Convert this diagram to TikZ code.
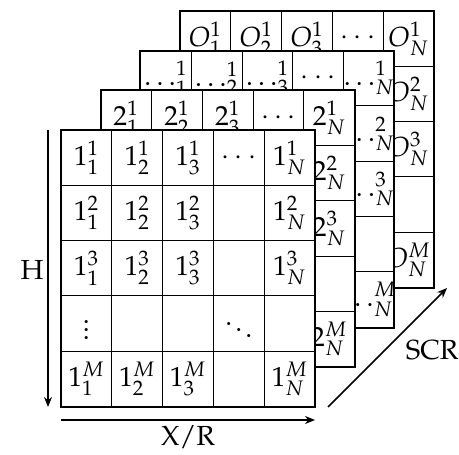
\documentclass[tikz,border=0pt]{standalone}
\usepackage[T1]{fontenc}
\usepackage{mathpazo}
\usetikzlibrary{arrows.meta}
\begin{document}
\begin{tikzpicture}[x=0.5pt,y=-0.5pt,
  inner/.style={line width=0.5pt},
  outer/.style={line width=1pt},
  lbl/.style={inner sep=0pt,font=\fontsize{13.8}{16}\selectfont},
  axis/.style={line width=0.8pt,-{Stealth[length=5pt,width=4pt]}},
  axlbl/.style={inner sep=0pt,font=\fontsize{13.8}{16}\selectfont}]
\useasboundingbox (0,0) rectangle (459,454);
\foreach \k/\P in {3/O,2/\ldots,1/2,0/1} {
  \begin{scope}[shift={(39.7*\k,-39.7*\k)}]
    \fill[white] (61,130) rectangle ++(254,277);
    \foreach \i in {1,...,4} {
      \draw[inner] ({61+50.8*\i},130) -- ++(0,277);
      \draw[inner] (61,{130+55.3*\i}) -- ++(254,0);
    }
    \draw[outer] (61,130) rectangle ++(254,277);
    \foreach \r/\s in {1/1,2/2,3/3,5/M} {
      \foreach \c/\t in {1/1,2/2,3/3,5/N} {
        \node[lbl] (g\k-\r-\c) at ({61+50.8*(\c-0.5)},{130+55.3*(\r-0.5)}) {$\P^{\s}_{\t}$};
      }
    }
    \node[lbl] (g\k-1-4) at ({61+50.8*3.5},{130+55.3*0.5}) {$\cdots$};
    \node[lbl] (g\k-4-1) at ({61+50.8*0.5},{130+55.3*3.5}) {$\vdots$};
    \node[lbl] (g\k-4-4) at ({61+50.8*3.5},{130+55.3*3.5}) {$\ddots$};
  \end{scope}
}
\coordinate (hs) at (48,130);
\coordinate (he) at (48,407);
\coordinate (xs) at (61,420);
\coordinate (xe) at (315,420);
\coordinate (ss) at (328,407);
\coordinate (se) at (447,288);
\draw[axis] (hs) -- (he);
\draw[axis] (xs) -- (xe);
\draw[axis] (ss) -- (se);
\node[axlbl] (hl) at (32,270) {H};
\node[axlbl] (xl) at (188,437) {X/R};
\node[axlbl] (sl) at (432,350) {SCR};
\end{tikzpicture}
\end{document}
